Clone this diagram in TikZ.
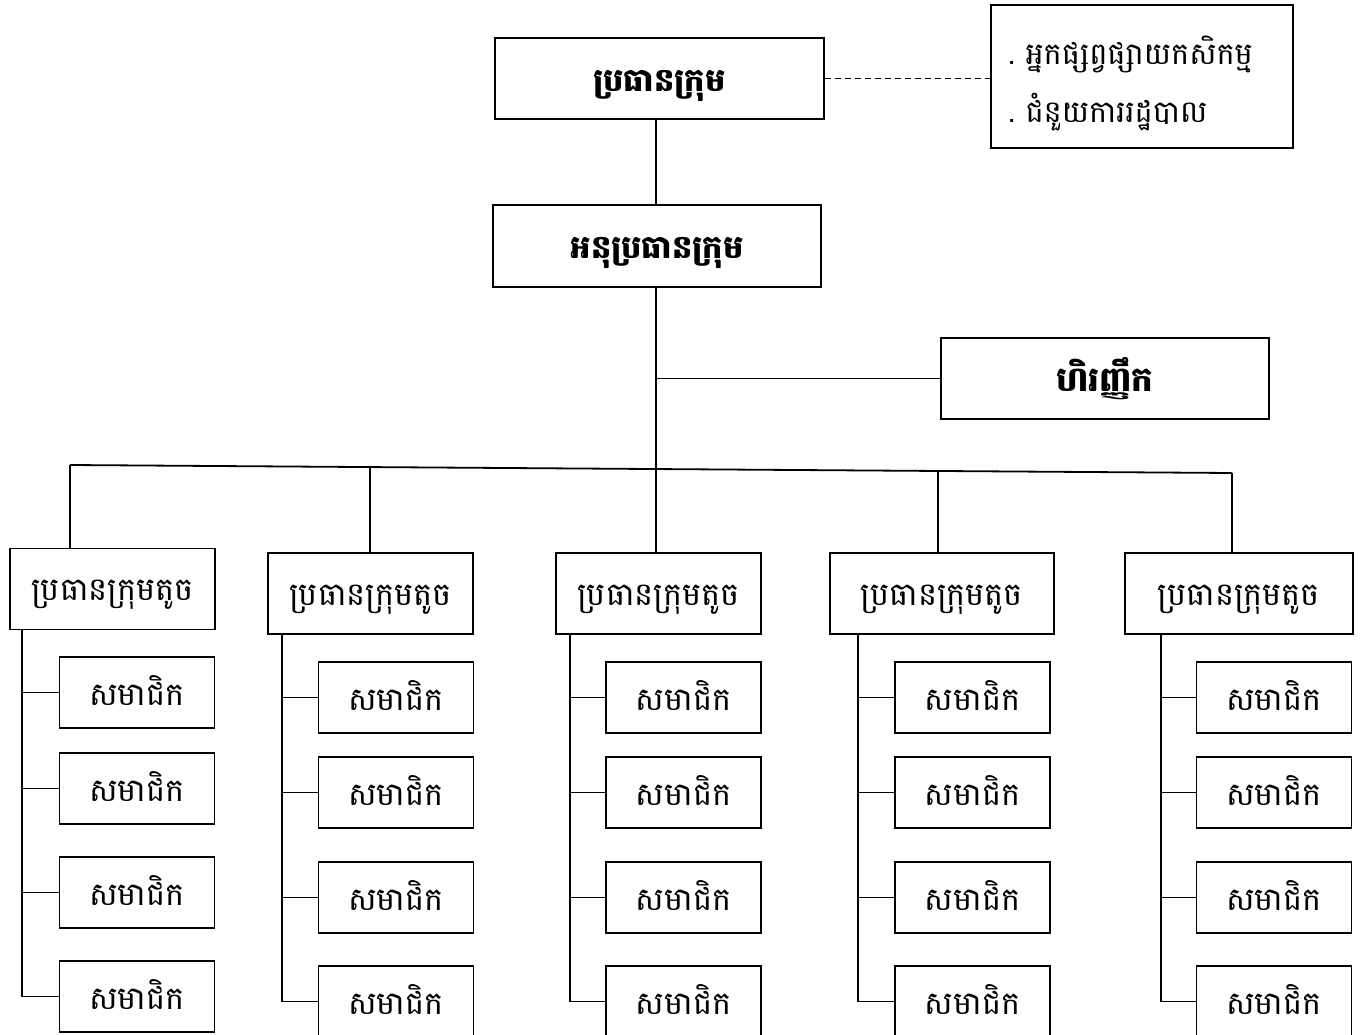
\documentclass[tikz,border=0pt]{standalone}
\usepackage{fontspec}
\newfontfamily\kh[Script=Khmer]{Battambang}
\begin{document}
\begin{tikzpicture}[x=1pt,y=-1pt,line width=1.8pt,
  frame/.style={draw,rectangle,inner sep=0pt},
  box/.style={frame,font=\kh\fontsize{32}{38}\selectfont,text height=23pt,text depth=0pt},
  bigbox/.style={box,font=\kh\bfseries\fontsize{32}{38}\selectfont,text height=25.5pt},
  leader/.style={box,minimum height=81pt},
  member/.style={box,minimum width=155pt,minimum height=71pt,text height=26.5pt},
  link/.style={draw,line width=1.8pt}]
\clip (0,0) rectangle (1367,1035);
\fill[white] (0,0) rectangle (1367,1035);

% top part
\node[bigbox,minimum width=329pt,minimum height=81pt] (top) at (659.5,78.5) {ប្រធានក្រុម};
\node[frame,minimum width=302pt,minimum height=143pt,text width=268pt,inner xsep=17pt,align=left,
      font=\kh\fontsize{30.5}{58}\selectfont] (aux) at (1142,76.5)
  {\rule{0pt}{42pt}.\ អ្នកផ្សព្វផ្សាយកសិកម្ម\\.\ ជំនួយការរដ្ឋបាល};
\node[bigbox,minimum width=328pt,minimum height=82pt] (vice) at (657,246) {អនុប្រធានក្រុម};
\node[bigbox,minimum width=328pt,minimum height=81pt,font=\kh\bfseries\fontsize{34}{40}\selectfont,text height=26pt] (fin) at (1105,378.5) {ហិរញ្ញឹក};

% leaders
\node[leader,minimum width=205pt] (L1) at (112.5,589) {ប្រធានក្រុមតូច};
\node[leader,minimum width=205pt] (L2) at (370.5,593.5) {ប្រធានក្រុមតូច};
\node[leader,minimum width=205pt] (L3) at (658.5,593.5) {ប្រធានក្រុមតូច};
\node[leader,minimum width=224pt] (L4) at (942,593.5) {ប្រធានក្រុមតូច};
\node[leader,minimum width=228pt] (L5) at (1239,593.5) {ប្រធានក្រុមតូច};

% members
\foreach \i/\y in {1/692.5,2/788.5,3/892.5,4/996.5}
  \node[member] (M1\i) at (137,\y) {សមាជិក};
\foreach \c/\x in {2/396,3/683.5,4/972.5,5/1274}
  \foreach \i/\y in {1/697.5,2/792.5,3/897.5,4/1001.5}
    \node[member] (M\c\i) at (\x,\y) {សមាជិក};

% coordinates
\coordinate (t) at (656,0);
\coordinate (b1) at (70,465);
\coordinate (b2) at (370,467);
\coordinate (b4) at (938,471);
\coordinate (b5) at (1232,473);
\coordinate (s1) at (22,0);
\coordinate (s2) at (282,0);
\coordinate (s3) at (570,0);
\coordinate (s4) at (858,0);
\coordinate (s5) at (1161,0);

% connectors
\draw[link,dashed,dash pattern=on 6pt off 4pt,line width=1.3pt] (top.east) -- (aux.west |- top.east);
\draw[link] (top.south -| t) -- (vice.north -| t);
\draw[link] (vice.south -| t) -- (L3.north -| t);
\draw[link] (fin.west -| t) -- (fin.west);
\draw[link] (b1) -- (b5);
\draw[link] (b1) -- (b1 |- L1.north);
\draw[link] (b2) -- (b2 |- L2.north);
\draw[link] (b4) -- (b4 |- L4.north);
\draw[link] (b5) -- (b5 |- L5.north);

\foreach \c in {1,...,5}{
  \draw[link] (L\c.south -| s\c) -- (s\c |- M\c4.west) -- (M\c4.west);
  \foreach \i in {1,2,3}
    \draw[link] (s\c |- M\c\i.west) -- (M\c\i.west);
}
\end{tikzpicture}
\end{document}
